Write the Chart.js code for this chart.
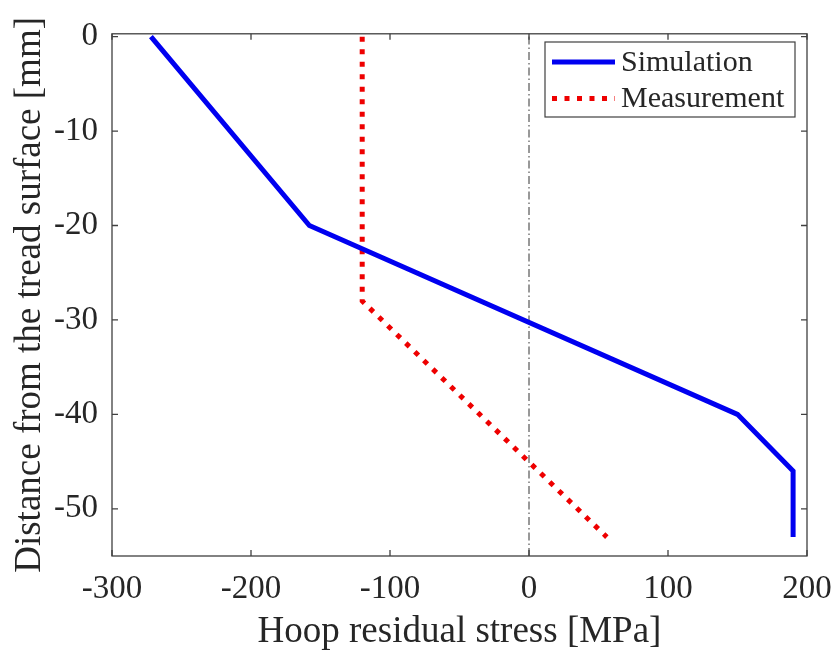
<!DOCTYPE html>
<html>
<head>
<meta charset="utf-8">
<script src="https://cdn.jsdelivr.net/npm/chart.js@4"></script>
<style>
  body { margin: 0; background: #fff; }
  #wrap { width: 837px; height: 655px; }
</style>
</head>
<body>
<div id="wrap"><canvas id="chart" width="837" height="655"></canvas></div>
<script>
// Hoop residual stress [MPa] vs distance from tread surface [mm]
const simStress = [-272, -158, 150, 190, 190];
const simDepth = [0, -20, -40, -46, -53];
const measStress = [-120, -120, 56];
const measDepth = [0, -28, -53];
const zeroStress = [0, 0];
const zeroDepth = [-55, 0.3];

const xTicks = [-300, -200, -100, 0, 100, 200];
const yTicks = [-50, -40, -30, -20, -10, 0];

const FONT = 'Liberation Serif, Times New Roman, serif';
const AXIS_COLOR = '#404040';
const TEXT_COLOR = '#262626';

const toPoints = (xs, ys) => xs.map((x, i) => ({ x: x, y: ys[i] }));

// box around the axes with inward ticks on all four sides
const axesBox = {
    id: 'axesBox',
    afterDatasetsDraw(chart) {
        const { ctx, chartArea: a, scales } = chart;
        ctx.save();
        ctx.strokeStyle = AXIS_COLOR;
        ctx.lineWidth = 1.3;
        ctx.strokeRect(a.left, a.top, a.right - a.left, a.bottom - a.top);
        const len = 6;
        ctx.beginPath();
        xTicks.forEach(v => {
            const px = scales.x.getPixelForValue(v);
            ctx.moveTo(px, a.bottom); ctx.lineTo(px, a.bottom - len);
            ctx.moveTo(px, a.top); ctx.lineTo(px, a.top + len);
        });
        yTicks.forEach(v => {
            const py = scales.y.getPixelForValue(v);
            ctx.moveTo(a.left, py); ctx.lineTo(a.left + len, py);
            ctx.moveTo(a.right, py); ctx.lineTo(a.right - len, py);
        });
        ctx.stroke();
        ctx.restore();
    }
};

// legend inside the axes, top right
const boxLegend = {
    id: 'boxLegend',
    afterDraw(chart) {
        const { ctx } = chart;
        const items = chart.data.datasets.filter(d => d.label);
        const x0 = 545, y0 = 42, w = 250, h = 75;
        ctx.save();
        ctx.fillStyle = '#fff';
        ctx.fillRect(x0, y0, w, h);
        ctx.strokeStyle = AXIS_COLOR;
        ctx.lineWidth = 1.2;
        ctx.strokeRect(x0, y0, w, h);
        ctx.font = '30px ' + FONT;
        ctx.textBaseline = 'middle';
        items.forEach((d, i) => {
            const cy = y0 + 20 + i * 36.5;
            ctx.beginPath();
            ctx.strokeStyle = d.borderColor;
            ctx.lineWidth = d.borderWidth;
            ctx.setLineDash(d.borderDash || []);
            ctx.moveTo(x0 + 7, cy);
            ctx.lineTo(x0 + 70, cy);
            ctx.stroke();
            ctx.setLineDash([]);
            ctx.fillStyle = TEXT_COLOR;
            ctx.fillText(d.label, x0 + 76, cy + 1);
        });
        ctx.restore();
    }
};

new Chart(document.getElementById('chart'), {
    type: 'scatter',
    data: {
        datasets: [
            {
                label: 'Simulation',
                data: toPoints(simStress, simDepth),
                showLine: true,
                borderColor: '#0000f0',
                borderWidth: 5,
                pointRadius: 0,
                borderJoinStyle: 'miter'
            },
            {
                label: 'Measurement',
                data: toPoints(measStress, measDepth),
                showLine: true,
                borderColor: '#ee0000',
                borderWidth: 5,
                borderDash: [5, 7.5],
                pointRadius: 0
            },
            {
                data: toPoints(zeroStress, zeroDepth),
                showLine: true,
                borderColor: '#333',
                borderWidth: 1,
                borderDash: [8, 3, 1.5, 3],
                pointRadius: 0
            }
        ]
    },
    options: {
        responsive: false,
        animation: false,
        layout: { padding: { left: 0, top: 29, right: 30, bottom: 0 } },
        plugins: {
            legend: { display: false },
            tooltip: { enabled: false }
        },
        scales: {
            x: {
                type: 'linear',
                min: -300,
                max: 200,
                afterFit: s => { s.height = 99; s.paddingLeft = 0; s.paddingRight = 0; },
                afterBuildTicks: s => { s.ticks = xTicks.map(v => ({ value: v })); },
                grid: { display: false, drawTicks: false },
                border: { display: false },
                ticks: { padding: 14, color: TEXT_COLOR, font: { family: FONT, size: 33 } },
                title: {
                    display: true,
                    text: 'Hoop residual stress [MPa]',
                    color: TEXT_COLOR,
                    font: { family: FONT, size: 37 },
                    padding: { top: 0, bottom: 1 }
                }
            },
            y: {
                type: 'linear',
                min: -55,
                max: 0.3,
                afterFit: s => { s.width = 112; },
                afterBuildTicks: s => { s.ticks = yTicks.map(v => ({ value: v })); },
                grid: { display: false, drawTicks: false },
                border: { display: false },
                ticks: { padding: 14, color: TEXT_COLOR, font: { family: FONT, size: 33 } },
                title: {
                    display: true,
                    text: 'Distance from the tread surface [mm]',
                    color: TEXT_COLOR,
                    font: { family: FONT, size: 37 },
                    padding: { top: 8, bottom: 0 }
                }
            }
        }
    },
    plugins: [axesBox, boxLegend]
});
</script>
</body>
</html>
